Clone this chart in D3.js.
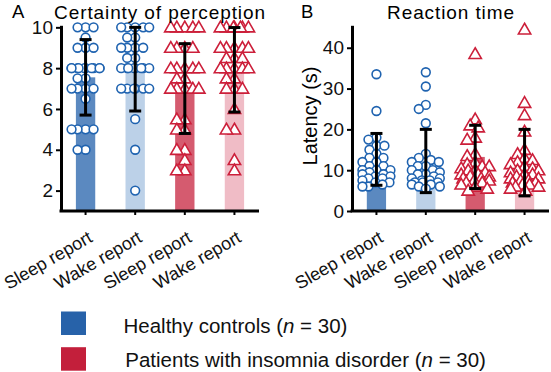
<!DOCTYPE html>
<html>
<head>
<meta charset="utf-8">
<script src="https://cdn.jsdelivr.net/npm/d3@7"></script>
<style>
  body { margin: 0; background: #fff; }
  svg { font-family: "Liberation Sans", Arial, sans-serif; }
</style>
</head>
<body>
<svg id="chart" width="551" height="372"></svg>
<script>
// categories
const conditions = ["Sleep report", "Wake report", "Sleep report", "Wake report"];

// panel A: certainty of perception (one array per bar)
const certHCSleep = [10, 10, 10, 9.5, 9, 9, 9, 8, 8, 8, 8, 8, 8, 8, 8, 8, 8, 7.5, 7.5, 7, 7, 7, 7, 6.5, 5, 5, 5, 5, 4, 4];
const certHCWake  = [10, 10, 10, 10, 10, 9.5, 9.5, 9, 9, 9, 9, 8.5, 8.5, 8, 8, 8, 8, 8, 8, 8, 8, 7, 7, 7, 7, 7, 7, 5.5, 4, 2];
const certIDSleep = [10, 10, 10, 10, 10, 9, 9, 9, 9, 8, 8, 8, 8, 8, 7.5, 7.5, 7, 7, 7, 7, 7, 5.5, 5.5, 5, 5, 4, 4, 3.5, 3, 3];
const certIDWake  = [10, 10, 10, 10, 10, 10, 10, 9, 9, 9, 9, 9, 8.5, 8.5, 8.5, 8, 8, 8, 8, 8, 7.5, 7.5, 7, 7, 7, 6, 5, 5, 3.5, 3];
const certMean = [7.55, 7.95, 7.0, 7.92];
const certSD   = [1.85, 2.05, 2.2, 2.07];

// panel B: reaction time (s)
const rtHCSleep = [33.5, 24.5, 18, 17.5, 16, 16, 15, 14, 13, 13, 12, 12, 11, 11, 10, 10, 10, 9.5, 9, 9, 8.5, 8.5, 8, 8, 7.5, 7, 7, 6.5, 6, 6];
const rtHCWake  = [34, 30.5, 26, 25, 21.5, 14, 13, 12.5, 12, 12, 11, 11, 10, 10, 9.5, 9, 9, 8.5, 8, 8, 7.5, 7.5, 7, 7, 7, 6.5, 6.5, 6, 6, 5.5];
const rtIDSleep = [38.5, 22.5, 21, 20.5, 18, 17.5, 14, 13.5, 12, 11.5, 11, 11, 10.5, 10, 10, 9.5, 9, 9, 8.5, 8.5, 8, 8, 7.5, 7.5, 7, 7, 6.5, 6, 5.5, 5];
const rtIDWake  = [44.5, 26.5, 23.5, 19.5, 15, 14, 13, 12.5, 12, 11.5, 11, 10.5, 10, 10, 9.5, 9, 9, 8.5, 8, 8, 7.5, 7.5, 7, 7, 6.5, 6.5, 6, 6, 5.5, 5];
const rtMean = [12.65, 12.25, 13.25, 11.85];
const rtSD   = [6.35, 7.75, 7.75, 8.15];

// ticks
const certTicks = [2, 4, 6, 8, 10];
const rtTicks = [0, 10, 20, 30, 40];

// legend
const groups = ["Healthy controls", "Patients with insomnia disorder"];
const groupN = [30, 30];

const barColors = ["#5b89c0", "#bcd1e8", "#d55b6f", "#f0bcc6"];
const markColors = ["#1f63b0", "#1f63b0", "#cc1f3a", "#cc1f3a"];
const legendColors = ["#2762a9", "#c31f3b"];

const svg = d3.select("#chart");

// spread points sideways so they don't sit on top of each other
function swarm(values, y, minDist, maxOff) {
    let placed = [];
    let out = [];
    values.forEach(v => {
        let py = y(v);
        let best = 0, bestScore = Infinity;
        for (let k = 0; k <= maxOff * 2; k++) {
            let off = (k % 2 === 0 ? 1 : -1) * Math.ceil(k / 2);
            let clash = 0;
            placed.forEach(p => {
                let d = Math.hypot(p.x - off, p.y - py);
                if (d < minDist) clash += (minDist - d);
            });
            if (clash === 0) { best = off; bestScore = 0; break; }
            if (clash < bestScore) { bestScore = clash; best = off; }
        }
        placed.push({x: best, y: py});
        out.push({v: v, dx: best, y: py});
    });
    return out;
}

function drawPanel(opt) {
    let g = svg.append("g");

    let x = d3.scaleBand()
        .domain(d3.range(conditions.length))
        .range(opt.xRange)
        .paddingInner(0.61)
        .paddingOuter(0.3);
    let y = d3.scaleLinear()
        .domain(opt.yDomain)
        .range([211, 25.3]);

    // bars
    g.selectAll("rect.bar")
        .data(opt.mean)
        .enter()
        .append("rect")
        .attr("class", "bar")
        .attr("x", (d, i) => x(i))
        .attr("width", x.bandwidth())
        .attr("y", d => y(d))
        .attr("height", d => y(opt.yDomain[0]) - y(d))
        .attr("fill", (d, i) => barColors[i]);

    // individual participants
    opt.points.forEach((vals, i) => {
        let cx = x(i) + x.bandwidth() / 2;
        let pts = swarm(vals, y, 7.5, 14);
        let sel = g.append("g").selectAll("path")
            .data(pts)
            .enter()
            .append("path")
            .attr("fill", "#fff")
            .attr("stroke", markColors[i])
            .attr("stroke-width", 1.6);
        if (i < 2) {
            sel.attr("d", d3.symbol(d3.symbolCircle, 60))
               .attr("transform", d => `translate(${cx + d.dx},${d.y})`);
        } else {
            sel.attr("d", d3.symbol(d3.symbolTriangle, 66))
               .attr("transform", d => `translate(${cx + d.dx},${d.y + 1})`);
        }
    });

    // error bars (mean +/- SD)
    let eb = g.selectAll("g.err")
        .data(opt.mean)
        .enter()
        .append("g")
        .attr("class", "err")
        .attr("stroke", "#000")
        .attr("stroke-width", 3);
    let cxOf = i => x(i) + x.bandwidth() / 2;
    let top = (d, i) => y(Math.min(d + opt.sd[i], opt.yDomain[1] - 0.1));
    eb.append("line")
        .attr("x1", (d, i) => cxOf(i)).attr("x2", (d, i) => cxOf(i))
        .attr("y1", top)
        .attr("y2", (d, i) => y(d - opt.sd[i]));
    eb.append("line")
        .attr("x1", (d, i) => cxOf(i) - 6).attr("x2", (d, i) => cxOf(i) + 6)
        .attr("y1", top)
        .attr("y2", top);
    eb.append("line")
        .attr("x1", (d, i) => cxOf(i) - 6).attr("x2", (d, i) => cxOf(i) + 6)
        .attr("y1", (d, i) => y(d - opt.sd[i]))
        .attr("y2", (d, i) => y(d - opt.sd[i]));

    // axes
    let yAxis = d3.axisLeft(y).tickValues(opt.ticks).tickSizeInner(5).tickSizeOuter(0).tickPadding(3);
    let ya = g.append("g")
        .attr("transform", `translate(${opt.xRange[0]},0)`)
        .call(yAxis);
    ya.select(".domain").attr("stroke-width", 3);
    ya.selectAll(".tick line").attr("stroke-width", 2);
    ya.selectAll("text").attr("font-size", 19).attr("fill", "#111").attr("font-family", null);

    let xAxis = d3.axisBottom(x).tickSizeInner(4).tickSizeOuter(0).tickFormat(i => conditions[i]);
    let xa = g.append("g")
        .attr("transform", "translate(0,211)")
        .call(xAxis);
    xa.select(".domain").attr("stroke-width", 3).attr("d", `M${opt.xRange[0] - 1.5},0H${opt.xRange[1]}`);
    xa.selectAll(".tick line").attr("stroke-width", 2);
    xa.selectAll("text")
        .attr("font-size", 18)
        .attr("fill", "#111")
        .attr("font-family", null)
        .attr("text-anchor", "end")
        .attr("y", 0)
        .attr("dy", 0)
        .attr("transform", "translate(8,30) rotate(-30)");

    // panel letter and title
    g.append("text")
        .attr("x", opt.letterX).attr("y", 18)
        .attr("font-size", 18.5)
        .text(opt.letter);
    g.append("text")
        .attr("x", opt.titleX).attr("y", 18.5)
        .attr("text-anchor", "middle")
        .attr("font-size", 19)
        .attr("letter-spacing", 0.9)
        .text(opt.title);

    if (opt.yLabel) {
        g.append("text")
            .attr("transform", `translate(${opt.yLabelX},116) rotate(-90)`)
            .attr("text-anchor", "middle")
            .attr("font-size", 20)
            .text(opt.yLabel);
    }
}

drawPanel({
    xRange: [61, 259],
    yDomain: [1, 10.1],
    ticks: certTicks,
    mean: certMean,
    sd: certSD,
    points: [certHCSleep, certHCWake, certIDSleep, certIDWake],
    letter: "A", letterX: 12,
    title: "Certainty of perception", titleX: 160
});

drawPanel({
    xRange: [352, 549],
    yDomain: [0, 45.5],
    ticks: rtTicks,
    mean: rtMean,
    sd: rtSD,
    points: [rtHCSleep, rtHCWake, rtIDSleep, rtIDWake],
    letter: "B", letterX: 301,
    title: "Reaction time", titleX: 451,
    yLabel: "Latency (s)", yLabelX: 317
});

// legend
let lg = svg.append("g").selectAll("g")
    .data(groups)
    .enter()
    .append("g")
    .attr("transform", (d, i) => `translate(61,${311.5 + i * 35.7})`);
lg.append("rect")
    .attr("width", 25).attr("height", 23.5)
    .attr("fill", (d, i) => legendColors[i]);
let lt = lg.append("text")
    .attr("x", (d, i) => 62.5 + i * 1.8)
    .attr("y", (d, i) => 21 - i * 1.3)
    .attr("font-size", 20.5)
    .attr("fill", "#111");
lt.append("tspan").text(d => d + " (");
lt.append("tspan").attr("font-style", "italic").text("n");
lt.append("tspan").text((d, i) => " = " + groupN[i] + ")");
</script>
</body>
</html>
